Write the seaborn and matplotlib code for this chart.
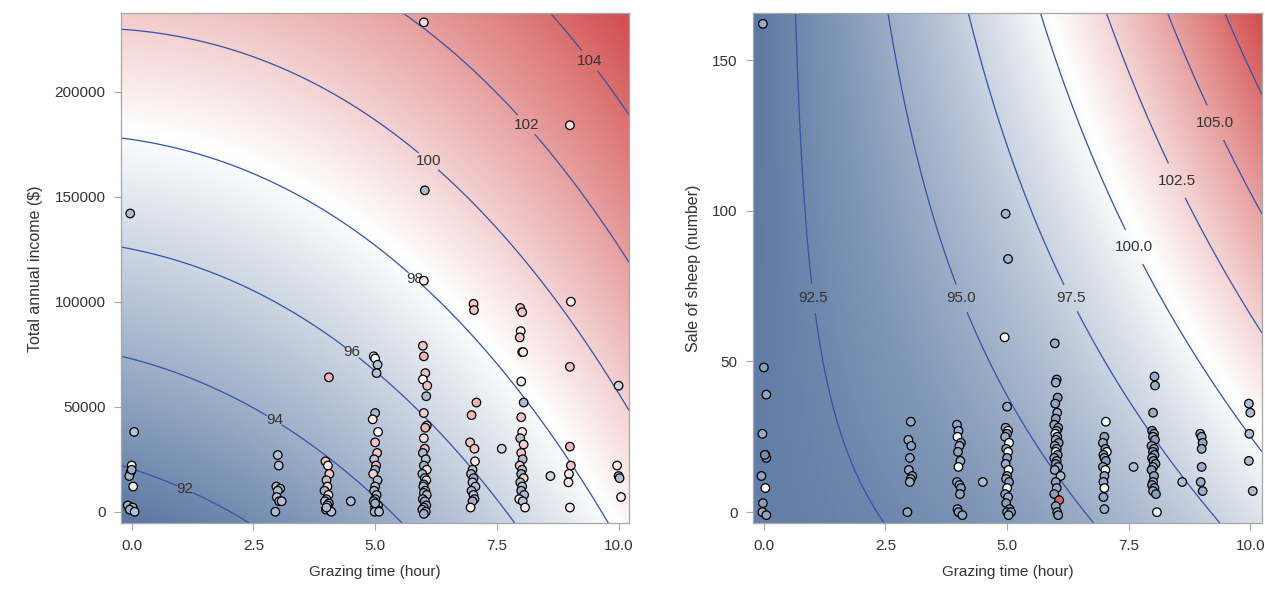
import numpy as np
import pandas as pd
import matplotlib
matplotlib.use("Agg")
import matplotlib.pyplot as plt
import seaborn as sns
from matplotlib.colors import LinearSegmentedColormap, Normalize

# ---- observations: income panel (grazing hour, income $, response) ----
inc_x = [-0.03, 0.05, 0.0, -0.02, -0.05, 0.03, -0.08, 0.02, -0.04, 0.06, 0.0,
         3.0, 3.02, 2.97, 3.05, 3.0, 2.98, 3.03, 3.08, 2.95,
         4.05, 3.98, 4.03, 4.06, 4.0, 4.02, 3.96, 4.04, 4.0, 3.97, 4.05, 4.02, 3.99, 4.1, 4.0,
         4.5,
         4.97, 5.0, 5.05, 5.03, 5.0, 4.95, 5.06, 5.0, 5.04, 4.98, 5.02, 5.0, 4.96, 5.05, 5.0,
         4.98, 5.03, 5.0, 4.97, 5.06, 5.0, 5.04, 4.99, 5.08, 5.0,
         6.0, 6.02, 6.0, 5.98, 6.0, 6.03, 5.98, 6.07, 6.05, 6.0, 6.06, 6.03, 6.0, 6.02, 5.98,
         6.04, 6.0, 6.06, 5.97, 6.02, 6.05, 6.0, 5.99, 6.03, 6.0, 6.06, 5.98, 6.02, 6.05, 6.0,
         5.97, 6.04, 6.0,
         7.02, 7.03, 7.08, 6.98, 6.95, 7.04, 7.05, 7.0, 6.97, 7.02, 7.0, 7.06, 6.98, 7.02,
         7.04, 7.0, 6.96,
         7.6,
         7.98, 8.02, 7.99, 7.97, 8.02, 8.04, 8.0, 8.05, 8.0, 8.02, 7.98, 8.05, 8.0, 8.03, 7.97,
         8.02, 8.0, 8.05, 7.98, 8.02, 8.0, 8.06, 7.96, 8.03, 8.08,
         8.6,
         9.0, 9.02, 9.0, 9.0, 9.02, 8.98, 8.97, 9.0,
         10.0, 9.97, 10.0, 10.02, 10.05]
inc_y = [142000, 38000, 22000, 19000, 17000, 12000, 3000, 2000, 1000, 0, 20000,
         27000, 22000, 12000, 11000, 10000, 7000, 5000, 5000, 0,
         64000, 24000, 22000, 18000, 15000, 12000, 10000, 8000, 6000, 5000, 4000, 3000, 1000, 0, 2000,
         5000,
         74000, 73000, 70000, 66000, 47000, 44000, 38000, 33000, 28000, 25000, 22000, 20000, 18000,
         15000, 12000, 10000, 8000, 6000, 5000, 3000, 2000, 1000, 0, 0, 4000,
         233000, 153000, 110000, 79000, 74000, 66000, 63000, 60000, 55000, 47000, 41000, 40000,
         35000, 30000, 28000, 25000, 22000, 20000, 18000, 16000, 15000, 13000, 12000, 10000, 9000,
         8000, 6000, 5000, 3000, 2000, 1000, 0, -1000,
         99000, 96000, 52000, 46000, 33000, 30000, 24000, 20000, 18000, 16000, 14000, 12000,
         10000, 8000, 6000, 5000, 2000,
         30000,
         97000, 95000, 86000, 83000, 76000, 76000, 62000, 52000, 45000, 38000, 35000, 32000,
         28000, 25000, 22000, 20000, 18000, 16000, 14000, 12000, 10000, 8000, 6000, 5000, 2000,
         17000,
         184000, 100000, 69000, 31000, 22000, 18000, 14000, 2000,
         60000, 22000, 17000, 16000, 7000]
inc_v = [94.5, 95, 98.5, 95, 94, 99, 94, 94.5, 94, 95, 94,
         95, 95, 94.5, 94, 94.5, 95, 94, 95, 94.5,
         101, 100.5, 99, 100.5, 95, 100, 94, 99.5, 94, 95, 94, 95.5, 94, 95, 94.5,
         94.5,
         99, 98, 95, 95, 94.5, 99, 98.5, 100.5, 100.5, 95, 101, 94, 100, 94.5, 95,
         94, 94.5, 95, 94, 94.5, 95, 94, 94.5, 95, 94,
         99.5, 94.5, 99, 100.5, 101, 100.5, 98, 100.5, 94.5, 100, 100.5, 101, 99.5, 101, 94.5,
         95, 94, 99.5, 94.5, 95, 100, 94, 94.5, 95, 94, 94.5, 95, 94, 94.5, 95,
         94, 94.5, 94,
         100.5, 100.5, 101, 101, 100.5, 100.5, 99, 95, 94.5, 94, 95, 94.5, 94, 95,
         94.5, 94, 99,
         96,
         100.5, 100.5, 99, 100.5, 100.5, 99, 99, 94.5, 100.5, 99, 95, 100, 100.5, 94.5, 100.5,
         95, 94, 100, 94.5, 95, 94, 94.5, 99, 95, 99,
         96,
         99.5, 99, 100.5, 101, 100.5, 99, 99, 99,
         96, 99, 95, 94.5, 99]

# ---- observations: sheep panel (grazing hour, sheep sold, response) ----
shp_x = [-0.02, 0.0, 0.05, -0.03, 0.03, 0.05, 0.02, -0.05, 0.03, -0.02, -0.03, 0.05,
         3.02, 2.97, 3.03, 3.0, 2.98, 3.05, 3.02, 3.0, 2.95,
         3.97, 4.0, 3.98, 4.05, 4.02, 3.99, 4.04, 4.0, 3.97, 4.02, 4.05, 4.03, 3.98, 4.0, 4.08,
         4.5,
         4.97, 5.02, 4.95, 5.0, 4.97, 5.02, 5.0, 4.96, 5.04, 4.98, 5.02, 5.0, 4.97, 5.03, 5.0,
         4.98, 5.04, 5.0, 4.96, 5.02, 4.98, 5.05, 5.0, 5.08, 5.03,
         5.98, 6.02, 6.0, 6.04, 5.99, 6.03, 6.0, 5.97, 6.05, 6.02, 5.99, 6.03, 6.0, 6.06, 5.98,
         6.02, 6.0, 6.04, 5.97, 6.02, 6.0, 6.05, 5.98, 6.1, 6.0, 6.02, 5.97, 6.07, 6.0, 6.03, 6.05,
         7.03, 7.0, 6.97, 7.02, 7.05, 6.98, 7.0, 7.03, 6.97, 7.02, 7.0, 6.98, 7.0, 6.98, 7.0,
         7.6,
         8.03, 8.04, 8.0, 7.98, 8.02, 8.0, 8.04, 7.97, 8.02, 8.0, 8.03, 7.98, 8.01, 8.05, 8.0,
         7.97, 8.02, 8.0, 7.98, 8.03, 8.0, 8.06, 8.08,
         8.6,
         8.97, 9.0, 9.02, 9.0, 9.0, 8.98, 9.02,
         9.97, 10.0, 9.98, 9.97, 10.05]
shp_y = [162, 48, 39, 26, 19, 18, 19, 12, 8, 3, 0, -1,
         30, 24, 22, 18, 14, 12, 11, 10, 0,
         29, 27, 25, 23, 22, 20, 17, 15, 10, 9, 8, 6, 1, 0, -1,
         10,
         99, 84, 58, 35, 28, 27, 26, 25, 23, 21, 20, 18, 16, 14, 12,
         11, 10, 8, 6, 5, 3, 1, 0, 0, -1,
         56, 44, 43, 38, 36, 33, 31, 29, 28, 27, 26, 25, 24, 23, 22,
         21, 20, 19, 18, 17, 16, 15, 14, 12, 10, 8, 6, 4, 2, 0, -1,
         30, 25, 23, 21, 20, 19, 18, 17, 15, 14, 12, 10, 8, 5, 1,
         15,
         45, 42, 33, 27, 26, 25, 24, 22, 21, 20, 19, 18, 17, 16, 15,
         14, 12, 10, 9, 8, 7, 6, 0,
         10,
         26, 25, 23, 21, 15, 10, 7,
         36, 33, 26, 17, 7]
shp_v = [95, 94, 94.5, 95, 94, 93.5, 93, 94.5, 100, 94, 95, 94.5,
         94.5, 95, 94, 94.5, 95, 94, 94.5, 95, 94.5,
         94.5, 95, 100, 94, 95, 94.5, 95, 100, 94.5, 95, 94, 94.5, 95, 94, 94.5,
         96,
         95.5, 95.5, 100, 95, 94.5, 99.5, 94, 95, 100, 94.5, 99.5, 94, 95, 100, 94.5,
         95, 94, 100, 94.5, 95, 94, 94.5, 95, 94, 94.5,
         95, 94.5, 95, 94, 94.5, 95, 94, 94.5, 95, 94, 99.5, 94.5, 95, 94, 94.5,
         95, 99.5, 94, 94.5, 95, 94, 94.5, 95, 96, 94.5, 95, 94, 108, 94.5, 95, 94,
         100, 94.5, 95, 94, 99.5, 94.5, 95, 94, 94.5, 100, 94.5, 95, 100, 94.5, 95,
         96,
         95, 95, 95, 94, 94.5, 95, 94, 94.5, 95, 94, 94.5, 95, 94, 94.5, 95,
         94, 94.5, 95, 94, 94.5, 95, 94, 99.5,
         96,
         95, 95, 94.5, 95, 95, 95, 95,
         96, 96, 96, 96, 96]

# ---- contour positions: (hour, y, level) ----
inc_lvl_x = [-0.23, 1.10, 1.40, 2.47, -0.23, 1.40, 2.64, 2.92, 3.18, 4.83, 5.57,
             -0.23, 0.72, 3.18, 4.52, 4.79, 7.95, -0.23, 5.82, 9.72,
             -0.23, 5.10, 5.79, 6.09, 8.05, 5.58, 7.94, 8.08, 8.32, 10.22,
             8.59, 9.38, 10.22]
inc_lvl_y = [22200, 11100, 7100, -5500, 74100, 62700, 46900, 43300, 39700, 10300, -5500,
             126000, 119800, 96900, 75700, 70700, -5500, 178000, 111000, -5500,
             229800, 188000, 173000, 166700, 117500, 237300, 188000, 183800, 178600, 123000,
             237300, 214300, 188900]
inc_lvl = [92, 92, 92, 92, 94, 94, 94, 94, 94, 94, 94,
           96, 96, 96, 96, 96, 96, 98, 98, 98,
           100, 100, 100, 100, 100, 102, 102, 102, 102, 102,
           104, 104, 104]

shp_lvl_x = [0.64, 0.74, 1.0, 2.49, 2.55, 3.03, 3.82, 4.06, 6.77,
             4.19, 4.92, 5.94, 6.29, 9.37, 5.71, 6.53, 7.59, 10.24,
             7.05, 7.99, 8.48, 10.24, 8.30, 9.28, 10.24, 9.47, 10.24]
shp_lvl_y = [165.5, 126.5, 70.9, -3.7, 165.5, 126.5, 83.4, 70.9, -3.7,
             165.5, 126.5, 83.4, 70.9, -3.7, 165.5, 126.5, 87.8, 20.5,
             165.5, 126.5, 109.9, 59.3, 165.5, 129.2, 99.3, 165.5, 138.7]
shp_lvl = [92.5, 92.5, 92.5, 92.5, 95, 95, 95, 95, 95,
           97.5, 97.5, 97.5, 97.5, 97.5, 100, 100, 100, 100,
           102.5, 102.5, 102.5, 102.5, 105, 105, 105, 107.5, 107.5]

inc_levels = [92, 94, 96, 98, 100, 102, 104]
inc_label_pos = {92: (1.10, 11100), 94: (2.92, 43300), 96: (4.52, 75700), 98: (5.82, 111000),
                 100: (6.09, 166700), 102: (8.08, 183800), 104: (9.38, 214300)}
shp_levels = [92.5, 95, 97.5, 100, 102.5, 105, 107.5]
shp_label_pos = {92.5: (1.0, 70.9), 95: (4.06, 70.9), 97.5: (6.29, 70.9), 100: (7.59, 87.8),
                 102.5: (8.48, 109.9), 105: (9.28, 129.2)}

cmap = LinearSegmentedColormap.from_list("ramp", ["#5b78a2", "#ffffff", "#d24c4c"])
LINE = "#3552a8"
TXT = "#333333"
FRAME = "#a6a6a6"

sns.set_style("white")
plt.rcParams['font.family'] = ['Liberation Sans', 'DejaVu Sans']


def fit_surface(px, py, lv):
    px, py = np.asarray(px, float), np.asarray(py, float)
    A = np.column_stack([np.ones_like(px), px, py, px ** 2, py ** 2, px * py])
    coef, *_ = np.linalg.lstsq(A, np.asarray(lv, float), rcond=None)
    return coef


def surface(coef, X, Y):
    return coef[0] + coef[1] * X + coef[2] * Y + coef[3] * X ** 2 + coef[4] * Y ** 2 + coef[5] * X * Y


def panel(ax, x, y, v, ax_x, ax_y, ax_l, yscale, xlim, ylim, levels, label_pos, fmt, ylabel, yticks):
    coef = fit_surface(ax_x, np.asarray(ax_y) / yscale, ax_l)
    gx = np.linspace(xlim[0], xlim[1], 300)
    gy = np.linspace(ylim[0], ylim[1], 300)
    X, Y = np.meshgrid(gx, gy)
    Z = surface(coef, X, Y / yscale)
    norm = Normalize(Z.min(), Z.max())
    ax.imshow(Z, extent=[xlim[0], xlim[1], ylim[0], ylim[1]], origin="lower", aspect="auto",
              cmap=cmap, norm=norm, interpolation="bilinear", zorder=0)
    for lv in levels:
        cs = ax.contour(X, Y, Z, levels=[lv], colors=LINE, linewidths=0.9, zorder=1)
        if lv in label_pos:
            texts = ax.clabel(cs, inline=True, fmt=fmt, fontsize=11, colors=TXT,
                              manual=[label_pos[lv]], inline_spacing=0)
            for t in texts:
                t.set_rotation(0)
    df = pd.DataFrame({"x": x, "y": y, "v": v})
    sns.scatterplot(data=df, x="x", y="y", hue="v", palette=cmap, hue_norm=norm, s=38,
                    edgecolor="black", linewidth=0.9, legend=False, ax=ax, zorder=3)
    ax.set_xlim(xlim)
    ax.set_ylim(ylim)
    ax.set_xticks([0, 2.5, 5, 7.5, 10])
    ax.set_xticklabels(["0.0", "2.5", "5.0", "7.5", "10.0"])
    ax.set_yticks(yticks)
    ax.set_yticklabels([str(t) for t in yticks])
    ax.set_xlabel("Grazing time (hour)", fontsize=11, color=TXT, labelpad=9)
    ax.set_ylabel(ylabel, fontsize=11.5, color=TXT, labelpad=8)
    ax.tick_params(axis="both", direction="out", length=5, width=0.8, color=FRAME,
                   labelsize=11, labelcolor=TXT, pad=6, bottom=True, left=True)
    for sp in ax.spines.values():
        sp.set_color(FRAME)
        sp.set_linewidth(0.9)


fig = plt.figure(figsize=(12.65, 5.94), dpi=100)
ax1 = fig.add_axes([120.7 / 1265, 70.7 / 594, 508.6 / 1265, 510 / 594])
ax2 = fig.add_axes([752.7 / 1265, 70.7 / 594, 509.3 / 1265, 510 / 594])

panel(ax1, inc_x, inc_y, inc_v, inc_lvl_x, inc_lvl_y, inc_lvl, 1000.0,
      (-0.226, 10.22), (-5500, 237300), inc_levels, inc_label_pos, "%d",
      "Total annual income ($)", [0, 50000, 100000, 150000, 200000])
panel(ax2, shp_x, shp_y, shp_v, shp_lvl_x, shp_lvl_y, shp_lvl, 1.0,
      (-0.23, 10.24), (-3.7, 165.5), shp_levels, shp_label_pos, "%.1f",
      "Sale of sheep (number)", [0, 50, 100, 150])

fig.savefig("out.png", dpi=100)
